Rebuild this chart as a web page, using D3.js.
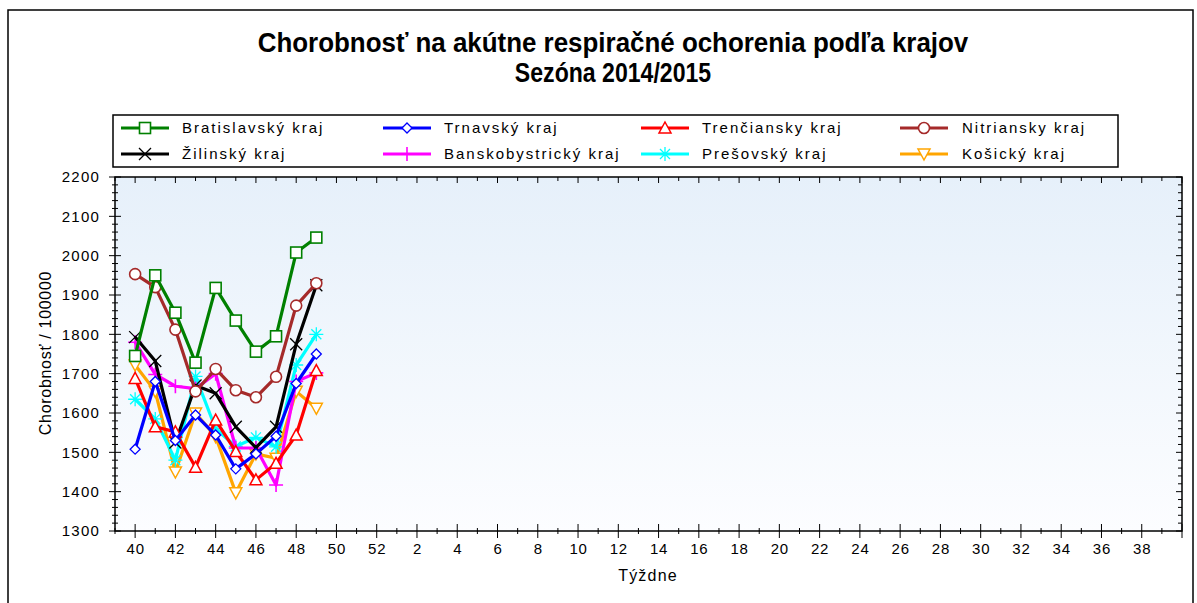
<!DOCTYPE html>
<html><head><meta charset="utf-8">
<script src="https://cdn.jsdelivr.net/npm/d3@7"></script>
<style>
body{margin:0;background:#fff;}
svg{display:block;}
</style></head>
<body>
<svg id="chart" width="1197" height="603"></svg>
<script>
const weeks = [40,41,42,43,44,45,46,47,48,49];
const axisWeeks = [39,40,41,42,43,44,45,46,47,48,49,50,51,52,1,2,3,4,5,6,7,8,9,10,11,12,13,14,15,16,17,18,19,20,21,22,23,24,25,26,27,28,29,30,31,32,33,34,35,36,37,38,39,40];
const yTicks = [1300,1400,1500,1600,1700,1800,1900,2000,2100,2200];

const bratislavsky   = [1745,1950,1855,1728,1918,1835,1756,1795,2008,2046];
const trnavsky       = [1508,1680,1530,1595,1544,1458,1496,1541,1675,1750];
const trenciansky    = [1688,1565,1552,1462,1582,1502,1430,1472,1544,1708];
const nitriansky     = [1953,1920,1812,1655,1712,1658,1640,1692,1873,1930];
const zilinsky       = [1793,1732,1525,1670,1650,1565,1512,1565,1775,1925];
const banskobystricky= [1780,1698,1668,1662,1700,1511,1511,1417,1680,1702];
const presovsky      = [1635,1585,1480,1693,1560,1515,1538,1514,1722,1800];
const kosicky        = [1722,1655,1450,1600,1540,1397,1496,1485,1655,1612];

const titleLines = ["Chorobnosť na akútne respiračné ochorenia podľa krajov","Sezóna 2014/2015"];
const seriesNames = ["Bratislavský kraj","Trnavský kraj","Trenčiansky kraj","Nitriansky kraj","Žilinský kraj","Banskobystrický kraj","Prešovský kraj","Košický kraj"];
const seriesValues = [bratislavsky,trnavsky,trenciansky,nitriansky,zilinsky,banskobystricky,presovsky,kosicky];
const seriesColors = ["#008000","#0000ff","#ff0000","#a52a2a","#000000","#ff00ff","#00ffff","#ffa500"];
const seriesMarkers = ["square","diamond","triangle","circle","x","plus","star","triangleDown"];

const svg = d3.select("#chart");
const L=115, R=1182, T=177, B=531;
const idx = w => w>=39 ? w-40 : w+12;
const x = d3.scaleLinear().domain([-1,52]).range([L,R]);
const y = d3.scaleLinear().domain([1300,2200]).range([B,T]);

// outer frame
svg.append("rect").attr("x",8).attr("y",10).attr("width",1185).attr("height",600)
  .attr("fill","none").attr("stroke","#000").attr("stroke-width",1.5);

// title (condensed bold)
const tf = "'Liberation Sans',Arial,sans-serif";
const titleScale=[0.96,0.855], titleY=[52,82];
titleLines.forEach((t,i)=>{
  svg.append("g").attr("transform",`translate(613,${titleY[i]}) scale(${titleScale[i]},1)`)
    .append("text").attr("text-anchor","middle").attr("font-family",tf).attr("font-weight","bold")
    .attr("font-size",27).attr("fill","#000").text(t);
});

// background gradient
const defs = svg.append("defs");
const grad = defs.append("linearGradient").attr("id","bg").attr("x1",0).attr("y1",0).attr("x2",0).attr("y2",1);
grad.append("stop").attr("offset","0%").attr("stop-color","#e6f0fa");
grad.append("stop").attr("offset","100%").attr("stop-color","#fcfdff");
svg.append("rect").attr("x",L).attr("y",T).attr("width",R-L).attr("height",B-T).attr("fill","url(#bg)");

const font = "'Liberation Sans',Arial,sans-serif";

// axes
const yMinor = d3.range(1300,2201,20);
const gAx = svg.append("g");
yMinor.forEach(v=>{
  const major = v%100===0;
  const len = major?6:3;
  gAx.append("line").attr("x1",L-len).attr("x2",L+len).attr("y1",y(v)).attr("y2",y(v)).attr("stroke","#000");
  gAx.append("line").attr("x1",R-(major?6:4)).attr("x2",R).attr("y1",y(v)).attr("y2",y(v)).attr("stroke","#000");
});
axisWeeks.forEach((w,i)=>{
  const xi = x(i-1);
  const major = w%2===0;
  const len = major?7:3;
  gAx.append("line").attr("x1",xi).attr("x2",xi).attr("y1",B-len).attr("y2",B+len).attr("stroke","#000");
  gAx.append("line").attr("x1",xi).attr("x2",xi).attr("y1",T).attr("y2",T+(major?6:4)).attr("stroke","#000");
});
const yAxis = d3.axisLeft(y).tickValues(yTicks).tickSize(0).tickPadding(15).tickFormat(d3.format("d"));
svg.append("g").attr("transform",`translate(${L},0)`).call(yAxis)
  .call(g=>g.select(".domain").remove())
  .selectAll("text").attr("font-family",font).attr("font-size",15).attr("fill","#000").attr("letter-spacing",1.2);
const xLabelWeeks = axisWeeks.slice(1,axisWeeks.length-2).filter(w=>w%2===0);
const xAxis = d3.axisBottom(x).tickValues(xLabelWeeks.map(idx)).tickSize(0).tickPadding(12)
  .tickFormat(i=>{const w=i<=12?i+40:i-12;return String(w);});
svg.append("g").attr("transform",`translate(0,${B})`).call(xAxis)
  .call(g=>g.select(".domain").remove())
  .selectAll("text").attr("font-family",font).attr("font-size",15).attr("fill","#000").attr("letter-spacing",0.8);
svg.append("rect").attr("x",L).attr("y",T).attr("width",R-L).attr("height",B-T)
  .attr("fill","none").attr("stroke","#000").attr("stroke-width",1.5);

// axis titles
svg.append("text").attr("x",648).attr("y",581).attr("text-anchor","middle")
  .attr("font-family",font).attr("font-size",16).attr("letter-spacing",1.2).text("Týždne");
svg.append("text").attr("transform","translate(51,353) rotate(-90)").attr("text-anchor","middle")
  .attr("font-family",font).attr("font-size",16).attr("letter-spacing",0.7).text("Chorobnosť / 100000");

function drawMarker(g,type,cx,cy,color){
  const s=5.5;
  if(type==="square") g.append("rect").attr("x",cx-s).attr("y",cy-s).attr("width",2*s).attr("height",2*s).attr("fill","#fff").attr("stroke",color).attr("stroke-width",1.6);
  else if(type==="circle") g.append("circle").attr("cx",cx).attr("cy",cy).attr("r",s).attr("fill","#fff").attr("stroke",color).attr("stroke-width",1.6);
  else if(type==="diamond") g.append("path").attr("d",`M${cx},${cy-5}L${cx+5},${cy}L${cx},${cy+5}L${cx-5},${cy}Z`).attr("fill","#fff").attr("stroke",color).attr("stroke-width",1.3);
  else if(type==="triangle") g.append("path").attr("d",`M${cx},${cy-6}L${cx+6},${cy+5}L${cx-6},${cy+5}Z`).attr("fill","#fff").attr("stroke",color).attr("stroke-width",1.5);
  else if(type==="triangleDown") g.append("path").attr("d",`M${cx},${cy+6}L${cx+6},${cy-5}L${cx-6},${cy-5}Z`).attr("fill","#fff").attr("stroke",color).attr("stroke-width",1.5);
  else if(type==="x") g.append("path").attr("d",`M${cx-6},${cy-6}L${cx+6},${cy+6}M${cx-6},${cy+6}L${cx+6},${cy-6}`).attr("stroke",color).attr("stroke-width",1.3);
  else if(type==="plus") g.append("path").attr("d",`M${cx-7},${cy}L${cx+7},${cy}M${cx},${cy-7}L${cx},${cy+7}`).attr("stroke",color).attr("stroke-width",1.6);
  else if(type==="star") g.append("path").attr("d",`M${cx-7},${cy}L${cx+7},${cy}M${cx},${cy-7}L${cx},${cy+7}M${cx-5},${cy-5}L${cx+5},${cy+5}M${cx-5},${cy+5}L${cx+5},${cy-5}`).attr("stroke",color).attr("stroke-width",1.3);
}

const line = d3.line().x((d,i)=>x(idx(weeks[i]))).y(d=>y(d));
for(let s=seriesValues.length-1;s>=0;s--){
  const g = svg.append("g");
  g.append("path").datum(seriesValues[s]).attr("d",line).attr("fill","none")
    .attr("stroke",seriesColors[s]).attr("stroke-width",3.2).attr("stroke-linejoin","round");
  seriesValues[s].forEach((v,i)=>drawMarker(g,seriesMarkers[s],x(idx(weeks[i])),y(v),seriesColors[s]));
}

// legend
svg.append("rect").attr("x",113).attr("y",115).attr("width",1005).attr("height",52)
  .attr("fill","#fff").attr("stroke","#000").attr("stroke-width",1.5);
const colLine=[121,383,641,900], colText=[182,444,702,962], rowY=[128,154];
seriesNames.forEach((name,k)=>{
  const c=k%4, r=Math.floor(k/4);
  const g=svg.append("g");
  g.append("line").attr("x1",colLine[c]).attr("x2",colLine[c]+48).attr("y1",rowY[r]).attr("y2",rowY[r])
    .attr("stroke",seriesColors[k]).attr("stroke-width",3);
  drawMarker(g,seriesMarkers[k],colLine[c]+24,rowY[r],seriesColors[k]);
  g.append("text").attr("x",colText[c]).attr("y",rowY[r]+5).attr("font-family",font).attr("font-size",15)
    .attr("letter-spacing",2).text(name);
});
</script>
</body></html>
